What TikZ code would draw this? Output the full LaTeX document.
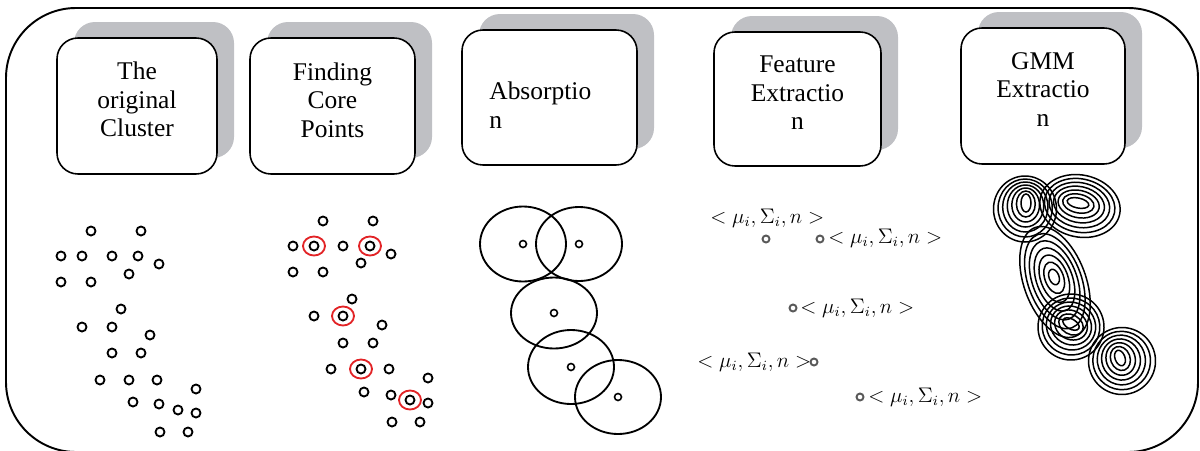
\documentclass[tikz,border=0pt]{standalone}
\usepackage{fontspec}
\setmainfont{Liberation Serif}
\newfontfamily\stagefont{Liberation Serif}
\usetikzlibrary{shapes.geometric}
\definecolor{shade}{RGB}{191,192,196}
\definecolor{corered}{RGB}{226,35,38}
\begin{document}
\begin{tikzpicture}[x=0.02cm,y=0.02cm,
  frame/.style={line width=1.1pt, rounded corners=1.4cm},
  stagebox/.style={draw, line width=0.9pt, rounded corners=0.42cm, fill=white, inner sep=0pt},
  stageshadow/.style={fill=shade, rounded corners=0.42cm},
  stagetext/.style={inner sep=0pt, font=\stagefont\fontsize{14.5}{16.2}\selectfont},
  pt/.style={circle, draw, line width=1.05pt, minimum size=0.18cm, inner sep=0pt},
  core/.style={ellipse, draw=corered, line width=1.05pt, minimum width=0.44cm, minimum height=0.38cm, inner sep=0pt},
  seed/.style={circle, draw, line width=0.9pt, minimum size=0.14cm, inner sep=0pt},
  reach/.style={line width=1.05pt},
  fdot/.style={circle, draw=black!65, line width=1.1pt, minimum size=0.14cm, inner sep=0pt},
  feat/.style={inner sep=0pt, font=\fontsize{11.8}{14}\selectfont},
  ring/.style={line width=0.85pt}
]
\useasboundingbox (0,0) rectangle (1200,-450);

% outer frame
\draw[frame] (6,-8) rectangle (1198,-452);

% stage boxes with their shadows
\foreach \n/\cx/\cy/\w/\h in {1/137/106/160/136, 2/332.5/106/165/136, 3/549.5/97.5/175/135, 4/797.5/99/167/134, 5/1043/96/164/136}{
  \fill[stageshadow] (\cx-\w/2+17,-\cy+\h/2+16) rectangle (\cx+\w/2+17,-\cy-\h/2+16);
  \node[stagebox, minimum width={\w*0.02cm}, minimum height={\h*0.02cm}] (b\n) at (\cx,-\cy) {};
}
\node[stagetext, align=center] (l1) at (137,-99.7) {The\\original\\Cluster};
\node[stagetext, align=center] (l2) at (332.5,-100) {Finding\\Core\\Points};
\node[stagetext, align=left, anchor=west] (l3) at (489,-105.3) {Absorptio\\n};
\node[stagetext, align=center] (l4) at (797.5,-92.8) {Feature\\Extractio\\n};
\node[stagetext, align=center] (l5) at (1043,-89.5) {GMM\\Extractio\\n};

% original cluster
\foreach \x/\y [count=\i] in {91/231, 141/231, 61/256, 82/256, 112/256, 138/256, 159/264, 129/274,
  61/282, 91/282, 121/309, 82/327, 112/327, 150/335, 112/353, 141/353, 100/380, 129/380, 157/380,
  196/389, 133/402, 159/404, 178/410, 196/413, 160/432, 188/432}
  \node[pt] (a\i) at (\x,-\y) {};

% cluster with core points
\foreach \x/\y [count=\i] in {323/221, 373/221, 293/246, 314/246, 343/246, 370/246, 391/254, 361/263,
  293/272, 323/272, 352/299, 314/316, 343/316, 382/325, 343/343, 373/343, 331/369, 361/369, 389/369,
  428/378, 364/392, 391/395, 410/400, 428/403, 392/422, 420/422}
  \node[pt] (p\i) at (\x,-\y) {};
\foreach \j [count=\i] in {4,6,13,18,23}
  \node[core] (k\i) at (p\j) {};

% absorption regions
\foreach \x/\y/\rx/\ry [count=\i] in {523/244/43/37.5, 579/244/43/37, 554/313/43/35.5, 571/367/43/37, 618/397/43/37}{
  \node[seed] (s\i) at (\x,-\y) {};
  \draw[reach] (s\i.center) ellipse ({\rx} and {\ry});
}

% feature tuples
\node[feat, anchor=base west] (f1) at (710,-223) {$<\mu_i,\Sigma_i,n>$};
\node[fdot] (d1) at (766,-239) {};
\node[fdot] (d2) at (820,-239) {};
\node[feat, anchor=base west] (f2) at (828,-243) {$<\mu_i,\Sigma_i,n>$};
\node[fdot] (d3) at (793,-308) {};
\node[feat, anchor=base west] (f3) at (800,-313) {$<\mu_i,\Sigma_i,n>$};
\node[feat, anchor=base west] (f4) at (697,-367) {$<\mu_i,\Sigma_i,n>$};
\node[fdot] (d4) at (814,-362) {};
\node[fdot] (d5) at (860,-397) {};
\node[feat, anchor=base west] (f5) at (868,-402) {$<\mu_i,\Sigma_i,n>$};

% Gaussian mixture contours
\foreach \ox/\oy/\a/\b/\ix/\iy/\c/\d/\r in {
  1025/209/31.5/33/1026/203/5/9/0,
  1080/206/40.5/31/1078/203/11/5/-12,
  1055/282/31/58/1054/277/5/8/20,
  1071/327/33/33/1071/324/9/5/-30,
  1122/361/33.5/33.5/1120/358/5/8/20}{
  \foreach \k in {0,...,6}{
    \pgfmathsetmacro\gx{\ox+(\ix-\ox)*\k/6}
    \pgfmathsetmacro\gy{-(\oy+(\iy-\oy)*\k/6)}
    \pgfmathsetmacro\ga{\a+(\c-\a)*\k/6}
    \pgfmathsetmacro\gb{\b+(\d-\b)*\k/6}
    \draw[ring, rotate around={\r:(\gx,\gy)}] (\gx,\gy) ellipse ({\ga} and {\gb});
  }
}
\end{tikzpicture}
\end{document}
